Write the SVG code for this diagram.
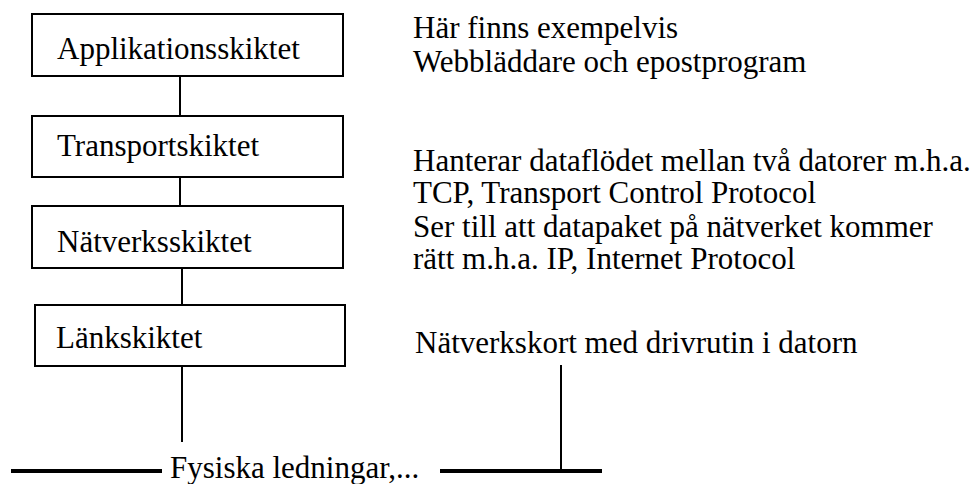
<svg xmlns="http://www.w3.org/2000/svg" width="971" height="484" viewBox="0 0 971 484">
<style>
.box{fill:#fff;stroke:#000;stroke-width:2}
.lbl{font-family:"Liberation Serif","Times New Roman",serif;font-size:31px;fill:#000}
.ln{stroke:#000;stroke-width:2;fill:none}
.thick{stroke:#000;stroke-width:4;fill:none}
</style>
<rect width="971" height="484" fill="#fff"/>
<g id="connectors">
<line class="ln" x1="180" y1="76" x2="180" y2="116"/>
<line class="ln" x1="180" y1="177" x2="180" y2="206"/>
<line class="ln" x1="182" y1="268" x2="182" y2="305"/>
<line class="ln" x1="182" y1="366" x2="182" y2="442"/>
<line class="ln" x1="561" y1="365" x2="561" y2="471"/>
<line class="thick" x1="11" y1="471" x2="162" y2="471"/>
<line class="thick" x1="440" y1="471" x2="602" y2="471"/>
</g>
<g id="applikation">
<rect class="box" x="32" y="14" width="311" height="62"/>
<text class="lbl" x="57" y="59">Applikationsskiktet</text>
</g>
<g id="transport">
<rect class="box" x="32" y="116" width="311" height="61"/>
<text class="lbl" x="57" y="156">Transportskiktet</text>
</g>
<g id="natverk">
<rect class="box" x="32" y="206" width="311" height="62"/>
<text class="lbl" x="57" y="252">Nätverksskiktet</text>
</g>
<g id="lank">
<rect class="box" x="35" y="305" width="310" height="61"/>
<text class="lbl" x="56" y="348">Länkskiktet</text>
</g>
<g id="desc-applikation">
<text class="lbl" x="413" y="38">Här finns exempelvis</text>
<text class="lbl" x="413" y="72">Webbläddare och epostprogram</text>
</g>
<g id="desc-transport">
<text class="lbl" x="413" y="171">Hanterar dataflödet mellan två datorer m.h.a.</text>
<text class="lbl" x="413" y="203">TCP, Transport Control Protocol</text>
</g>
<g id="desc-natverk">
<text class="lbl" x="413" y="237">Ser till att datapaket på nätverket kommer</text>
<text class="lbl" x="413" y="269">rätt m.h.a. IP, Internet Protocol</text>
</g>
<g id="desc-lank">
<text class="lbl" x="415" y="353">Nätverkskort med drivrutin i datorn</text>
</g>
<g id="fysiska">
<text class="lbl" x="170" y="478">Fysiska ledningar,...</text>
</g>
</svg>
